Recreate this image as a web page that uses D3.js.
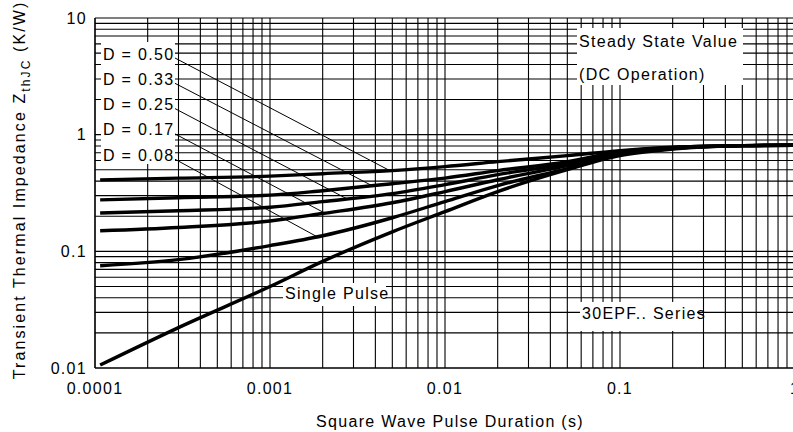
<!DOCTYPE html>
<html>
<head>
<meta charset="utf-8">
<script src="https://cdn.jsdelivr.net/npm/d3@7"></script>
<style>
  html, body { margin: 0; padding: 0; background: #fff; }
  svg { display: block; }
  text { font-family: "Liberation Sans", Arial, sans-serif; fill: #000; }
</style>
</head>
<body>
<svg id="chart" width="793" height="432"></svg>
<script>
// ---- data ----
const durations = [0.000107, 0.0003, 0.001, 0.002, 0.005, 0.01, 0.02, 0.05, 0.1, 0.2, 0.5, 1];
const zD50    = [0.410, 0.424, 0.441, 0.463, 0.492, 0.532, 0.587, 0.661, 0.730, 0.782, 0.805, 0.813];
const zD33    = [0.276, 0.288, 0.303, 0.331, 0.380, 0.424, 0.492, 0.587, 0.715, 0.774, 0.805, 0.813];
const zD25    = [0.213, 0.223, 0.239, 0.267, 0.312, 0.373, 0.454, 0.565, 0.701, 0.774, 0.805, 0.813];
const zD17    = [0.150, 0.160, 0.182, 0.211, 0.261, 0.325, 0.411, 0.542, 0.688, 0.766, 0.805, 0.813];
const zD08    = [0.0752, 0.0849, 0.112, 0.136, 0.194, 0.267, 0.366, 0.511, 0.674, 0.759, 0.805, 0.813];
const zSingle = [0.0106, 0.0222, 0.0499, 0.082, 0.147, 0.219, 0.325, 0.501, 0.661, 0.751, 0.805, 0.813];

const dutyLabels = ["D = 0.50", "D = 0.33", "D = 0.25", "D = 0.17", "D = 0.08"];
const dutySeries = [zD50, zD33, zD25, zD17, zD08];
const leaderTargets = [0.00485, 0.00383, 0.00275, 0.00206, 0.00186]; // t where leader meets curve

const xTickValues = [0.0001, 0.001, 0.01, 0.1, 1];
const xTickLabels = ["0.0001", "0.001", "0.01", "0.1", "1"];
const yTickValues = [0.01, 0.1, 1, 10];
const yTickLabels = ["0.01", "0.1", "1", "10"];

const xTitle = "Square Wave Pulse Duration (s)";
const yTitleMain = "Transient Thermal Impedance Z";
const yTitleSub = "thJC";
const yTitleEnd = " (K/W)";

// ---- layout ----
const svg = d3.select("#chart");
const L = 95, R = 795, T = 18, B = 368;
const x = d3.scaleLog().domain([1e-4, 1]).range([L, R]);
const y = d3.scaleLog().domain([0.01, 10]).range([B, T]);
const FS = 16, LS = "1.3px";

// grid
const grid = svg.append("g");
const xGrid = [], yGrid = [];
for (let e = -4; e <= -1; e++) for (let m = 1; m <= 9; m++) xGrid.push(m * Math.pow(10, e));
xGrid.push(1);
for (let e = -2; e <= 0; e++) for (let m = 1; m <= 9; m++) yGrid.push(m * Math.pow(10, e));
yGrid.push(10);
grid.selectAll("line.v").data(xGrid).join("line")
  .attr("x1", d => x(d)).attr("x2", d => x(d)).attr("y1", T).attr("y2", B)
  .attr("stroke", "#000").attr("stroke-width", 1.1);
grid.selectAll("line.h").data(yGrid).join("line")
  .attr("x1", L).attr("x2", R).attr("y1", d => y(d)).attr("y2", d => y(d))
  .attr("stroke", "#000").attr("stroke-width", 1.1);

// annotation backgrounds (cover grid)
const boxes = [
  {x0: 101, x1: 175, y0: 42, y1: 164},
  {x0: 577, x1: 743, y0: 28, y1: 85},
  {x0: 283, x1: 386, y0: 283, y1: 306},
  {x0: 580, x1: 697, y0: 302, y1: 331}
];
svg.append("g").selectAll("rect").data(boxes).join("rect")
  .attr("x", d => d.x0).attr("y", d => d.y0)
  .attr("width", d => d.x1 - d.x0).attr("height", d => d.y1 - d.y0)
  .attr("fill", "#fff");

// axes lines
svg.append("line").attr("x1", L).attr("x2", L).attr("y1", T).attr("y2", B).attr("stroke", "#000").attr("stroke-width", 1.2);
svg.append("line").attr("x1", L).attr("x2", R).attr("y1", B).attr("y2", B).attr("stroke", "#000").attr("stroke-width", 1.2);

// curves
const line = d3.line().x(d => x(d[0])).y(d => y(d[1])).curve(d3.curveMonotoneX);
const allSeries = [...dutySeries, zSingle];
svg.append("g").selectAll("path").data(allSeries).join("path")
  .attr("d", s => line(durations.map((t, i) => [t, s[i]])))
  .attr("fill", "none").attr("stroke", "#000").attr("stroke-width", 3.4)
  .attr("stroke-linejoin", "round");

// interpolate series value at t (log-log linear)
function valueAt(s, t) {
  const lt = Math.log10(t);
  for (let i = 0; i < durations.length - 1; i++) {
    const a = Math.log10(durations[i]), b = Math.log10(durations[i + 1]);
    if (lt >= a && lt <= b) {
      const f = (lt - a) / (b - a);
      return Math.pow(10, Math.log10(s[i]) + f * (Math.log10(s[i + 1]) - Math.log10(s[i])));
    }
  }
  return s[s.length - 1];
}

// duty labels + leaders
const labelBase0 = 59.5, labelStep = 25.3, labelX = 103;
const dl = svg.append("g");
dutyLabels.forEach((lab, i) => {
  const by = labelBase0 + i * labelStep;
  dl.append("text").attr("x", labelX).attr("y", by)
    .attr("font-size", FS).style("letter-spacing", LS).text(lab);
  const tt = leaderTargets[i];
  dl.append("line").attr("x1", 175).attr("y1", by - 1.5)
    .attr("x2", x(tt)).attr("y2", y(valueAt(dutySeries[i], tt)))
    .attr("stroke", "#000").attr("stroke-width", 1);
});

// other annotations
const ann = svg.append("g").attr("font-size", FS).style("letter-spacing", LS);
ann.append("text").attr("x", 579).attr("y", 47).text("Steady State Value");
ann.append("text").attr("x", 579).attr("y", 80).text("(DC Operation)");
ann.append("text").attr("x", 285).attr("y", 299).text("Single Pulse");
ann.append("text").attr("x", 582).attr("y", 319).text("30EPF.. Series");

// tick labels
svg.append("g").selectAll("text").data(xTickValues).join("text")
  .attr("x", d => x(d)).attr("y", 394).attr("text-anchor", "middle")
  .attr("font-size", FS).style("letter-spacing", LS)
  .text((d, i) => xTickLabels[i]);
svg.append("g").selectAll("text").data(yTickValues).join("text")
  .attr("x", 87).attr("y", d => y(d) + 5.5).attr("text-anchor", "end")
  .attr("font-size", FS).style("letter-spacing", LS)
  .text((d, i) => yTickLabels[i]);

// axis titles
svg.append("text").attr("x", 450).attr("y", 427).attr("text-anchor", "middle")
  .attr("font-size", FS).style("letter-spacing", LS).text(xTitle);
const yt = svg.append("text").attr("transform", "translate(25,190) rotate(-90)")
  .attr("text-anchor", "middle").attr("font-size", FS).style("letter-spacing", "2.1px");
yt.append("tspan").text(yTitleMain);
yt.append("tspan").attr("font-size", 12).attr("dy", 5).text(yTitleSub);
yt.append("tspan").attr("dy", -5).text(yTitleEnd);
</script>
</body>
</html>
